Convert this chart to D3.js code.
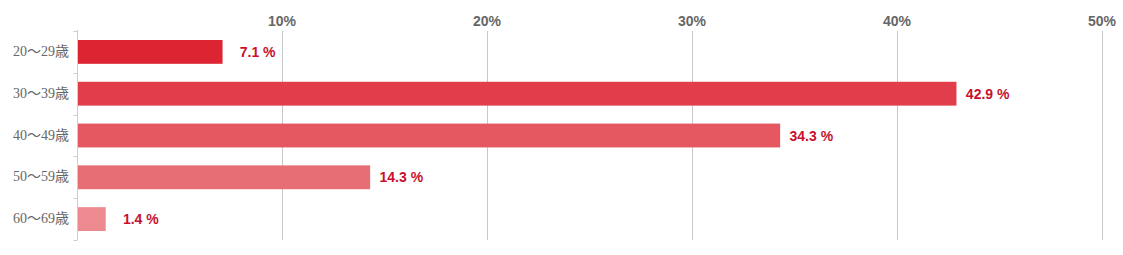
<!DOCTYPE html>
<html>
<head>
<meta charset="utf-8">
<script src="https://cdn.jsdelivr.net/npm/d3@7"></script>
<style>
  body { margin: 0; background: #fff; }
  #chart { width: 1123px; height: 255px; }
</style>
</head>
<body>
<div id="chart"></div>
<script>
// age groups and their share (%)
const categories = ["20〜29歳", "30〜39歳", "40〜49歳", "50〜59歳", "60〜69歳"];
const values = [7.1, 42.9, 34.3, 14.3, 1.4];
const xTicks = [10, 20, 30, 40, 50];

// bar colours, darker on top
const barColors = ["#dc2432", "#e23d4a", "#e55761", "#e86e76", "#ec8a90"];

let width = 1123;
let height = 255;
let margin = { top: 31, right: 21, bottom: 15, left: 77 };

let svg = d3.select("#chart")
    .append("svg")
    .attr("width", width)
    .attr("height", height);

// x scale in percent
let x = d3.scaleLinear()
    .domain([0, 50])
    .range([margin.left, margin.left + 1025]);

// y bands for age groups
let y = d3.scaleBand()
    .domain(categories)
    .range([margin.top, 240])
    .paddingInner(0.43)
    .paddingOuter(0.215);

// vertical grid lines + top labels
let grid = svg.append("g");
grid.selectAll("line")
    .data(xTicks)
    .enter()
    .append("line")
    .attr("x1", d => Math.round(x(d)) + 0.5)
    .attr("x2", d => Math.round(x(d)) + 0.5)
    .attr("y1", margin.top)
    .attr("y2", 240)
    .attr("stroke", "#c8c8c8")
    .attr("stroke-width", 1);

grid.selectAll("text")
    .data(xTicks)
    .enter()
    .append("text")
    .attr("x", d => x(d))
    .attr("y", 26)
    .attr("text-anchor", "middle")
    .style("font-family", "Arial, 'Liberation Sans', sans-serif")
    .style("font-weight", "bold")
    .style("font-size", "14px")
    .style("fill", "#666")
    .text(d => d + "%");

// left axis line and tick marks at band edges
let axisX = Math.round(x(0)) + 0.5;
svg.append("line")
    .attr("x1", axisX).attr("x2", axisX)
    .attr("y1", margin.top - 1).attr("y2", 240)
    .attr("stroke", "#c5d0db");

let step = y.step();
let edges = categories.map(c => y(c) - y.paddingInner() * step / 2);
edges.push(240);
svg.append("g").selectAll("line")
    .data(edges)
    .enter()
    .append("line")
    .attr("x1", axisX - 4)
    .attr("x2", axisX)
    .attr("y1", d => Math.round(d) + 0.5)
    .attr("y2", d => Math.round(d) + 0.5)
    .attr("stroke", "#c5d0db");

// category labels
svg.append("g").selectAll("text")
    .data(categories)
    .enter()
    .append("text")
    .attr("x", 69)
    .attr("y", d => y(d) + y.bandwidth() / 2 + 4)
    .attr("text-anchor", "end")
    .style("font-family", "'Liberation Serif', 'Noto Sans CJK JP', serif")
    .style("font-size", "14px")
    .style("fill", "#666")
    .text(d => d);

// bars
svg.append("g").selectAll("rect")
    .data(values)
    .enter()
    .append("rect")
    .attr("x", x(0) + 1)
    .attr("y", (d, i) => y(categories[i]))
    .attr("width", d => x(d) - x(0) - 1)
    .attr("height", y.bandwidth())
    .attr("fill", (d, i) => barColors[i]);

// value labels, right-aligned a fixed distance after the bar end
svg.append("g").selectAll("text")
    .data(values)
    .enter()
    .append("text")
    .attr("x", d => x(d) + 53)
    .attr("y", (d, i) => y(categories[i]) + y.bandwidth() / 2 + 5)
    .attr("text-anchor", "end")
    .style("font-family", "Arial, 'Liberation Sans', sans-serif")
    .style("font-weight", "bold")
    .style("font-size", "14px")
    .style("fill", "#c8102e")
    .text(d => d.toFixed(1) + " %");
</script>
</body>
</html>
